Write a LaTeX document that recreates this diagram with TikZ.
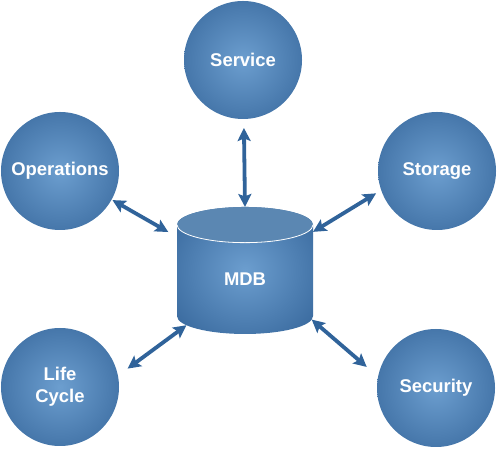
\documentclass[tikz,border=0pt]{standalone}
\usepackage{fontspec}
\setmainfont{Liberation Sans}
\usepackage{tikz}
\usetikzlibrary{arrows.meta,shapes.geometric,calc}
\definecolor{mdbLight}{HTML}{6C9ECF}
\definecolor{mdbDark}{HTML}{2F5F94}
\definecolor{mdbTop}{HTML}{5B87B2}
\definecolor{mdbArrow}{HTML}{30639A}
\pgfdeclareradialshading{mdbglow}{\pgfpoint{0bp}{0bp}}{color(0bp)=(mdbLight); color(40bp)=(mdbDark); color(50bp)=(mdbDark)}
\tikzset{
    bubble/.style={circle, minimum size=118bp, inner sep=0pt, outer sep=0pt, shading=mdbglow, text=white, align=center, font=\bfseries\fontsize{18.5}{22}\selectfont},
    store/.style={cylinder, shape border rotate=90, aspect=0.85, minimum width=136bp, minimum height=127bp, inner sep=0pt, outer sep=0pt, shading=mdbglow, text=white, font=\bfseries\fontsize{18.5}{22}\selectfont},
    storetop/.style={fill=mdbTop},
    rim/.style={draw=white, line width=0.8bp},
    link/.style={{Stealth[length=13bp,width=13bp,inset=2.5bp]}-{Stealth[length=13bp,width=13bp,inset=2.5bp]}, line width=3.8bp, draw=mdbArrow}
}
\begin{document}
\begin{tikzpicture}[x=1bp, y=1bp]
\useasboundingbox (0,0) rectangle (498,450);
\node[store] (mdb) at (245,170.5) {MDB};
\node[bubble] (svc) at (243,390) {Service};
\node[bubble] (ops) at (60,279) {Operations};
\node[bubble] (sto) at (437,279) {Storage};
\node[bubble] (life) at (60,63) {Life\\Cycle};
\node[bubble] (sec) at (436,62) {Security};
% top face of the drum
\fill[storetop] let \p1=(mdb.before top), \p2=(mdb.after top), \p3=(mdb.top), \p4=($(\p1)!0.5!(\p2)$), \n1={veclen(\x2-\x4,\y2-\y4)}, \n2={veclen(\x3-\x4,\y3-\y4)} in (\p4) ellipse [x radius=\n1, y radius=\n2];
\draw[rim] let \p1=(mdb.before top), \p2=(mdb.after top), \p3=(mdb.top), \p4=($(\p1)!0.5!(\p2)$), \n1={veclen(\x2-\x4,\y2-\y4)}, \n2={veclen(\x3-\x4,\y3-\y4)} in (\p4) ++(-\n1,0pt) arc [start angle=180, end angle=360, x radius=\n1, y radius=\n2];
\draw[link, shorten <=9bp] (svc) -- (mdb.top);
\draw[link, shorten <=1bp, shorten >=10bp] (ops.-29) -- (mdb.148);
\draw[link, shorten <=6bp] (sto.199) -- (mdb.35);
\draw[link, shorten <=12bp] (life.11) -- (mdb.218);
\draw[link, shorten >=15bp] (mdb.-31) -- (sec.169);
\end{tikzpicture}
\end{document}
